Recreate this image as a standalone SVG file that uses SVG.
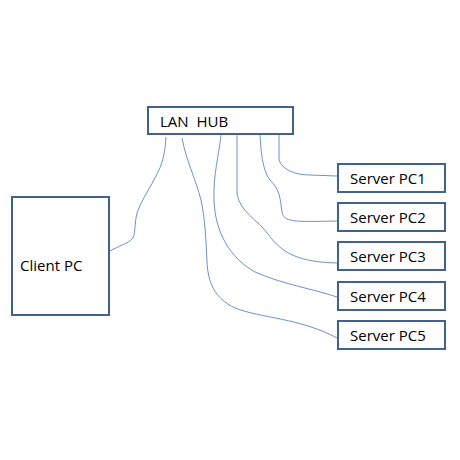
<svg xmlns="http://www.w3.org/2000/svg" width="460" height="460" viewBox="0 0 460 460">
<style>
.box{fill:#fff;stroke:#41618f;stroke-width:2}
.lbl{font-family:"Open Sans","Liberation Sans",sans-serif;font-size:15px;fill:#000;white-space:pre}
.wire{fill:none;stroke:#5b85c8;stroke-width:0.9}
</style>
<rect width="460" height="460" fill="#fff"/>
<g id="connectors">
<path class="wire" d="M166,137 C165,150 164,160 158,172 C150,188 142,200 139,208 C134,218 136,232 133,238 C128,244 118,246 110,251"/>
<path class="wire" d="M182,138 C186,160 196,180 201,200 C205,218 206,240 207,262 C208,282 214,298 235,308 C260,318 300,318 337,338"/>
<path class="wire" d="M221,135 C219,155 213,175 214,200 C215,232 230,258 255,272 C285,285 310,288 337,297"/>
<path class="wire" d="M237,135 L237,194 C240,212 258,220 268,234 C282,254 300,262 337,263"/>
<path class="wire" d="M260,135 C261,150 262,170 270,180 C280,190 280,198 282,212 C284,222 292,222 337,221"/>
<path class="wire" d="M279,135 L279,160 C282,170 296,175 310,175 L337,176"/>
</g>
<g id="hub">
<rect class="box" x="148" y="107" width="145" height="27"/>
<text class="lbl" x="160" y="127">LAN  HUB</text>
</g>
<g id="client">
<rect class="box" x="12" y="197" width="97" height="118"/>
<text class="lbl" x="20" y="271">Client PC</text>
</g>
<g id="pc1">
<rect class="box" x="338" y="164" width="107" height="28"/>
<text class="lbl" x="350" y="184">Server PC1</text>
</g>
<g id="pc2">
<rect class="box" x="338" y="203" width="107" height="28"/>
<text class="lbl" x="350" y="223">Server PC2</text>
</g>
<g id="pc3">
<rect class="box" x="338" y="242" width="107" height="28"/>
<text class="lbl" x="350" y="262">Server PC3</text>
</g>
<g id="pc4">
<rect class="box" x="338" y="282" width="107" height="28"/>
<text class="lbl" x="350" y="302">Server PC4</text>
</g>
<g id="pc5">
<rect class="box" x="338" y="321" width="107" height="28"/>
<text class="lbl" x="350" y="341">Server PC5</text>
</g>
</svg>
